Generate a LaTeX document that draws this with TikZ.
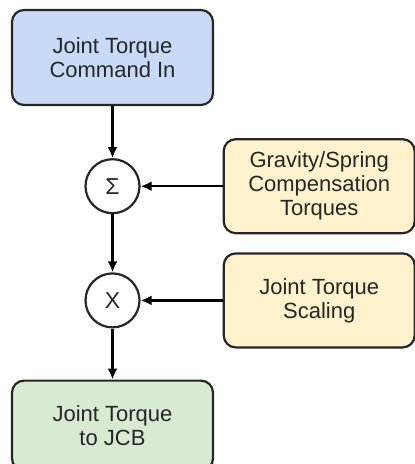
\documentclass[tikz,border=0pt]{standalone}
\usepackage{fontspec}
\setmainfont{Liberation Sans}
\usetikzlibrary{positioning,shapes,arrows.meta}
\definecolor{cmdblue}{HTML}{C9DAF8}
\definecolor{compyellow}{HTML}{FFF2CC}
\definecolor{outgreen}{HTML}{D9EAD3}
\definecolor{edgegray}{HTML}{262626}

\begin{document}
\begin{tikzpicture}[x=1pt, y=1pt, line width=2.2pt, >={Latex[length=11pt,width=10pt]},
    box/.style={draw=edgegray, rounded corners=12pt, minimum width=201pt, minimum height=95pt, align=center, font=\fontsize{22}{24}\selectfont, text=edgegray},
    sidebox/.style={box, fill=compyellow, minimum width=191pt, minimum height=94pt},
    op/.style={shape=circle, draw=edgegray, fill=white, minimum size=54pt, inner sep=0pt, font=\fontsize{23}{24}\selectfont, text=edgegray}]
    \useasboundingbox (0,0) rectangle (415,-464);

    \node[box, fill=cmdblue] (cmdIn) at (112.5,-57.5) {Joint Torque\\Command In};
    \node[op, below=52pt of cmdIn] (sum) {Σ};
    \node[op, below=58pt of sum] (prod) {X};
    \node[box, fill=outgreen, minimum height=90pt, below=51pt of prod] (jcbOut) {Joint Torque\\to JCB};

    \node[sidebox, right=82pt of sum] (comp) {Gravity/Spring\\Compensation\\Torques};
    \node[sidebox, right=82pt of prod] (scale) {Joint Torque\\Scaling};

    \draw[->] (cmdIn) -- (sum);
    \draw[->] (sum) -- (prod);
    \draw[->] (prod) -- (jcbOut);
    \draw[->] (comp) -- (sum);
    \draw[->] (scale) -- (prod);
\end{tikzpicture}
\end{document}
